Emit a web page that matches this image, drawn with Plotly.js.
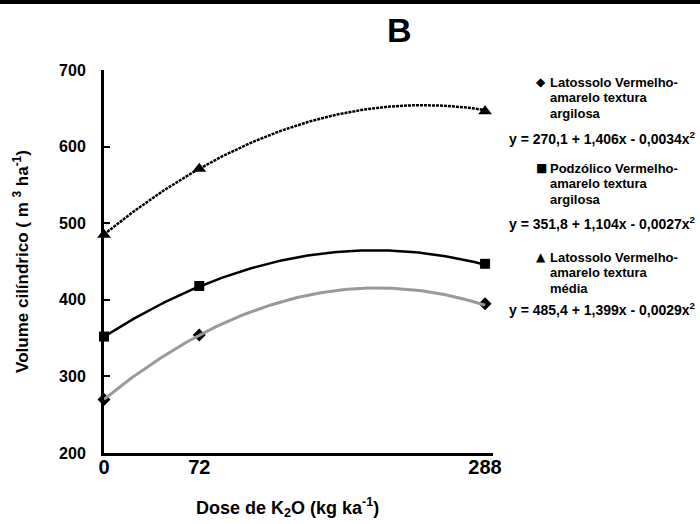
<!DOCTYPE html>
<html>
<head>
<meta charset="utf-8">
<script src="https://cdn.plot.ly/plotly-3.0.1.min.js"></script>
<style>
  html, body { margin: 0; padding: 0; background: #fff; }
  #chart { width: 700px; height: 524px; }
</style>
</head>
<body>
<div id="chart"></div>
<script>
// K2O doses (kg ha-1)
const doses = [0, 72, 288];

// Measured cylindrical volume (m3 ha-1) per soil
const volLVAargilosa = [270, 354, 395];   // diamonds
const volPVAargilosa = [352, 418, 447];   // squares
const volLVAmedia    = [485, 571, 646];   // triangles

// Fitted quadratic coefficients [a, b, c] for y = a + b x + c x^2
const coefLVAargilosa = [270.1, 1.406, -0.0034];
const coefPVAargilosa = [351.8, 1.104, -0.0027];
const coefLVAmedia    = [485.4, 1.399, -0.0029];

// Legend text lines and equations
const legendNames = [
  ["Latossolo Vermelho-", "amarelo textura", "argilosa"],
  ["Podzólico Vermelho-", "amarelo textura", "argilosa"],
  ["Latossolo Vermelho-", "amarelo textura", "média"]
];
const legendSymbols = ["\u25C6", "\u25A0", "\u25B2"];
const equations = [
  "y = 270,1 + 1,406x - 0,0034x<sup>2</sup>",
  "y = 351,8 + 1,104x - 0,0027x<sup>2</sup>",
  "y = 485,4 + 1,399x - 0,0029x<sup>2</sup>"
];

const yTicks = [200, 300, 400, 500, 600, 700];

// Sample the fitted curve over the dose range
function fitCurve(coef) {
  const xs = [], ys = [];
  const xmax = doses[doses.length - 1];
  for (let i = 0; i <= 144; i++) {
    const x = xmax * i / 144;
    xs.push(x);
    ys.push(coef[0] + coef[1] * x + coef[2] * x * x);
  }
  return { x: xs, y: ys };
}

const cA = fitCurve(coefLVAargilosa);
const cP = fitCurve(coefPVAargilosa);
const cM = fitCurve(coefLVAmedia);

const traces = [
  { x: doses, y: volLVAargilosa, mode: 'markers', type: 'scatter', cliponaxis: false,
    marker: { symbol: 'diamond', size: 10, color: '#000' } },
  { x: doses, y: volPVAargilosa, mode: 'markers', type: 'scatter', cliponaxis: false,
    marker: { symbol: 'square', size: 10, color: '#000' } },
  { x: doses, y: volLVAmedia, mode: 'markers', type: 'scatter', cliponaxis: false,
    marker: { symbol: 'triangle-up', size: 12, color: '#000' } },
  { x: cA.x, y: cA.y, mode: 'lines', type: 'scatter', cliponaxis: false,
    line: { color: '#999999', width: 3 } },
  { x: cP.x, y: cP.y, mode: 'lines', type: 'scatter', cliponaxis: false,
    line: { color: '#000', width: 2.5 } },
  { x: cM.x, y: cM.y, mode: 'lines', type: 'scatter', cliponaxis: false,
    line: { color: '#000', width: 2.5, dash: '3px,1px' } }
];

// plot area geometry (px)
const L = 104, R = 493, T = 70, B = 453, W = 700, H = 524;
const pw = R - L, ph = B - T;
const px = v => (v - L) / pw;
const py = v => (B - v) / ph;

const annotations = [
  { text: '<b>B</b>', x: px(399), y: py(30), xref: 'paper', yref: 'paper', showarrow: false,
    xanchor: 'center', yanchor: 'middle',
    font: { family: 'Liberation Sans, Arial, sans-serif', size: 34, color: '#000' } },
  // x-axis title, set slightly left of the plot centre
  { text: '<b>Dose de K<sub>2</sub>O (kg ka<sup>-1</sup>)</b>', x: px(287), y: py(507), xref: 'paper', yref: 'paper',
    showarrow: false, xanchor: 'center', yanchor: 'middle',
    font: { family: 'Liberation Sans, Arial, sans-serif', size: 18, color: '#000' } }
];

const entryTop = [82, 168, 257];
const eqY = [138, 223, 309];
legendNames.forEach((lines, k) => {
  annotations.push({ text: legendSymbols[k], x: px(541), y: py(entryTop[k]), xref: 'paper', yref: 'paper',
    showarrow: false, xanchor: 'center', yanchor: 'middle',
    font: { family: 'DejaVu Sans, sans-serif', size: 12, color: '#000' } });
  lines.forEach((ln, j) => {
    annotations.push({ text: '<b>' + ln + '</b>', x: px(548), y: py(entryTop[k] + j * 15.5), xref: 'paper', yref: 'paper',
      showarrow: false, xanchor: 'left', yanchor: 'middle',
      font: { family: 'Liberation Sans, Arial, sans-serif', size: 13, color: '#000' } });
  });
  annotations.push({ text: '<b>' + equations[k] + '</b>', x: px(698), y: py(eqY[k]), xref: 'paper', yref: 'paper',
    showarrow: false, xanchor: 'right', yanchor: 'middle',
    font: { family: 'Liberation Sans, Arial, sans-serif', size: 14, color: '#000' } });
});

const layout = {
  width: W, height: H,
  margin: { l: L, r: W - R, t: T, b: H - B, pad: 0 },
  paper_bgcolor: '#fff', plot_bgcolor: '#fff',
  showlegend: false,
  font: { family: 'Liberation Sans, Arial, sans-serif', color: '#000' },
  xaxis: {
    range: [0, 294], showgrid: false, zeroline: false,
    showline: true, linecolor: '#000', linewidth: 3,
    tickvals: doses, ticktext: doses.map(String), ticks: '',
    tickfont: { size: 20, weight: 'bold', color: '#000' },
    ticklabelstandoff: -6
  },
  yaxis: {
    range: [200, 700], showgrid: false, zeroline: false,
    showline: true, linecolor: '#000', linewidth: 3,
    tickvals: yTicks, ticks: 'inside', ticklen: 6, tickwidth: 2, tickcolor: '#000',
    tickfont: { size: 16, weight: 'bold', color: '#000' },
    ticklabelstandoff: 12,
    title: { text: '<b>Volume cilíndrico ( m <sup>3</sup> ha<sup>-1</sup>)</b>', standoff: 27,
      font: { size: 17, color: '#000' } }
  },
  shapes: [
    { type: 'rect', xref: 'paper', yref: 'paper', x0: px(0), x1: px(W), y0: py(0), y1: py(4),
      fillcolor: '#000', line: { width: 0 } }
  ],
  annotations: annotations
};

Plotly.newPlot('chart', traces, layout, { displayModeBar: false, staticPlot: true });
</script>
</body>
</html>
